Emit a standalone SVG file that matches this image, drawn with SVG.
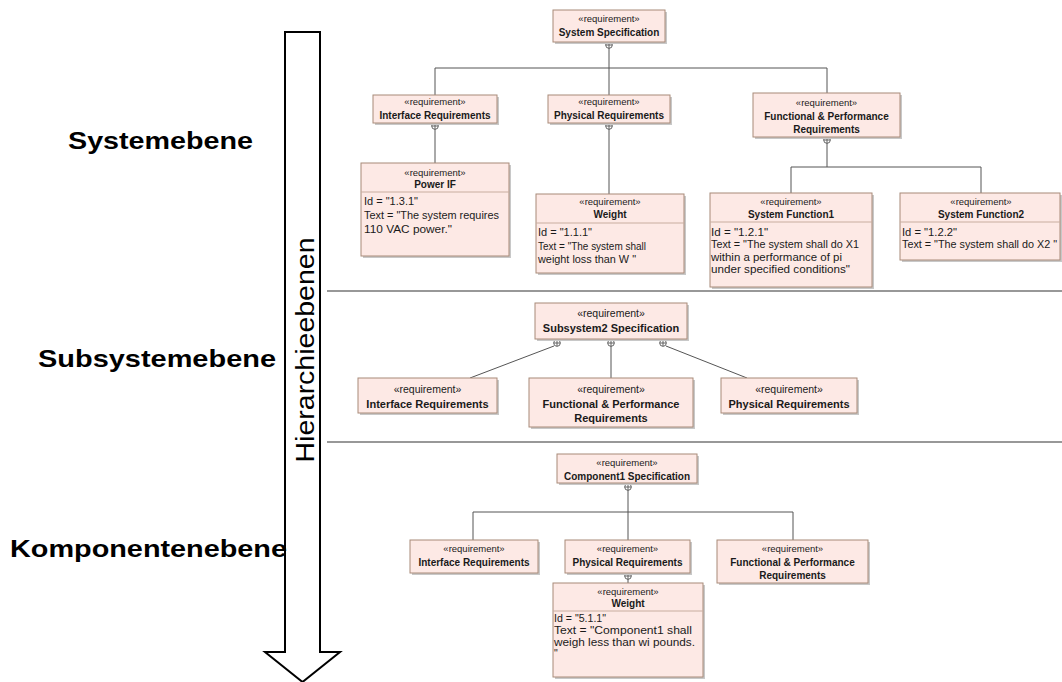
<svg xmlns="http://www.w3.org/2000/svg" xmlns:xlink="http://www.w3.org/1999/xlink" width="1062" height="682" viewBox="0 0 1062 682">
<style>
.bg{fill:#ffffff}
.box{fill:#fde9e5;stroke:#a88a78;stroke-width:1}
.sh{fill:#c8c8c8}
.div{stroke:#c8ad9f;stroke-width:1}
.t{font-family:"Liberation Sans",Arial,sans-serif;font-size:9.5px;fill:#1a1a1a;text-anchor:middle}
.b{font-size:10px;font-weight:bold}
.m{font-size:10.5px}
.mb{font-size:11px;font-weight:bold}
.a{font-family:"Liberation Sans",Arial,sans-serif;font-size:10.5px;fill:#1a1a1a;text-anchor:start}
.conn{stroke:#555;stroke-width:1;fill:none}
.sep{stroke:#333;stroke-width:1.2;fill:none}
.lvl{font-family:"Liberation Sans",Arial,sans-serif;font-size:24px;font-weight:bold;fill:#000}
.hier{font-family:"Liberation Sans",Arial,sans-serif;font-size:26px;fill:#000;text-anchor:middle}
.cp circle{fill:#fff;stroke:#555;stroke-width:0.9}
.cp path{stroke:#555;stroke-width:0.9}
</style>
<defs>
<g id="cplus" class="cp"><circle cx="0" cy="0" r="3.3"/><path d="M-3.3,0H3.3M0,-3.3V3.3"/></g>
</defs>
<rect class="bg" x="0" y="0" width="1062" height="682"/>

<g id="arrow">
<polygon points="285,32 320,32 320,652 340,652 302.5,682 265,652 285,652" fill="#fff" stroke="#000" stroke-width="2"/>
<text class="hier" transform="translate(314,350) rotate(-90)" x="0" y="0" textLength="225" lengthAdjust="spacingAndGlyphs">Hierarchieebenen</text>
</g>

<g id="levels">
<text class="lvl" x="68" y="149" textLength="185" lengthAdjust="spacingAndGlyphs">Systemebene</text>
<text class="lvl" x="38" y="367" textLength="238" lengthAdjust="spacingAndGlyphs">Subsystemebene</text>
<text class="lvl" x="10" y="557" textLength="277" lengthAdjust="spacingAndGlyphs">Komponentenebene</text>
</g>

<g id="separators">
<path class="sep" d="M327,291H1062M327,442H1062"/>
</g>

<g id="connectors">
<path class="conn" d="M609,48V68M435,68H827M435,68V95M609,68V95M827,68V93"/>
<path class="conn" d="M435,129V163M609,129V194M827,143V167M791,167H981M791,167V193M981,167V193"/>
<path class="conn" d="M554,346L470,378M611,346V378M666,346L747,378"/>
<path class="conn" d="M628,490V512M473,512H793M473,512V540M628,512V540M793,512V540M628,579V583"/>
<use xlink:href="#cplus" x="609" y="45"/>
<use xlink:href="#cplus" x="435" y="126"/>
<use xlink:href="#cplus" x="609" y="126"/>
<use xlink:href="#cplus" x="827" y="140"/>
<use xlink:href="#cplus" x="557" y="343"/>
<use xlink:href="#cplus" x="611" y="343"/>
<use xlink:href="#cplus" x="663" y="343"/>
<use xlink:href="#cplus" x="628" y="487"/>
<use xlink:href="#cplus" x="628" y="576"/>
</g>

<g id="system-spec">
<rect class="sh" x="555" y="12" width="112" height="32"/>
<rect class="box" x="553" y="10" width="112" height="32"/>
<text class="t" x="609" y="21.5">«requirement»</text>
<text class="t b" x="609" y="36">System Specification</text>
</g>

<g id="sys-interface">
<rect class="sh" x="375" y="97" width="124" height="28"/>
<rect class="box" x="373" y="95" width="124" height="28"/>
<text class="t" x="435" y="104.5">«requirement»</text>
<text class="t b" x="435" y="119">Interface Requirements</text>
</g>

<g id="sys-physical">
<rect class="sh" x="550" y="97" width="122" height="28"/>
<rect class="box" x="548" y="95" width="122" height="28"/>
<text class="t" x="609" y="104.5">«requirement»</text>
<text class="t b" x="609" y="119">Physical Requirements</text>
</g>

<g id="sys-functional">
<rect class="sh" x="755" y="95" width="147" height="44"/>
<rect class="box" x="753" y="93" width="147" height="44"/>
<text class="t" x="826.5" y="106">«requirement»</text>
<text class="t b" x="826.5" y="120">Functional &amp; Performance</text>
<text class="t b" x="826.5" y="132.5">Requirements</text>
</g>

<g id="power-if">
<rect class="sh" x="363" y="165" width="148" height="93"/>
<rect class="box" x="361" y="163" width="148" height="93"/>
<line class="div" x1="361" y1="192" x2="509" y2="192"/>
<text class="t" x="435" y="176">«requirement»</text>
<text class="t b" x="435" y="188">Power IF</text>
<text class="a" x="364" y="205" textLength="54" lengthAdjust="spacingAndGlyphs">Id = "1.3.1"</text>
<text class="a" x="364" y="219" textLength="135" lengthAdjust="spacingAndGlyphs">Text = "The system requires</text>
<text class="a" x="364" y="233" textLength="88" lengthAdjust="spacingAndGlyphs">110 VAC power."</text>
</g>

<g id="weight-sys">
<rect class="sh" x="538" y="196" width="148" height="79"/>
<rect class="box" x="536" y="194" width="148" height="79"/>
<line class="div" x1="536" y1="223" x2="684" y2="223"/>
<text class="t" x="610" y="205">«requirement»</text>
<text class="t b" x="610" y="218">Weight</text>
<text class="a" x="538" y="236" textLength="54" lengthAdjust="spacingAndGlyphs">Id = "1.1.1"</text>
<text class="a" x="538" y="250" textLength="108" lengthAdjust="spacingAndGlyphs">Text = "The system shall</text>
<text class="a" x="538" y="263" textLength="98" lengthAdjust="spacingAndGlyphs">weight loss than W "</text>
</g>

<g id="sys-function1">
<rect class="sh" x="712" y="195" width="162" height="94"/>
<rect class="box" x="710" y="193" width="162" height="94"/>
<line class="div" x1="710" y1="222" x2="872" y2="222"/>
<text class="t" x="791" y="205">«requirement»</text>
<text class="t b" x="791" y="218">System Function1</text>
<text class="a" x="711" y="236" textLength="57" lengthAdjust="spacingAndGlyphs">Id = "1.2.1"</text>
<text class="a" x="711" y="248" textLength="148" lengthAdjust="spacingAndGlyphs">Text = "The system shall do X1</text>
<text class="a" x="711" y="261" textLength="131" lengthAdjust="spacingAndGlyphs">within a performance of pi</text>
<text class="a" x="711" y="273" textLength="139" lengthAdjust="spacingAndGlyphs">under specified conditions"</text>
</g>

<g id="sys-function2">
<rect class="sh" x="902" y="195" width="160" height="67"/>
<rect class="box" x="900" y="193" width="160" height="67"/>
<line class="div" x1="900" y1="222" x2="1060" y2="222"/>
<text class="t" x="981" y="205">«requirement»</text>
<text class="t b" x="981" y="218">System Function2</text>
<text class="a" x="902" y="236" textLength="55" lengthAdjust="spacingAndGlyphs">Id = "1.2.2"</text>
<text class="a" x="902" y="248" textLength="155" lengthAdjust="spacingAndGlyphs">Text = "The system shall do X2 "</text>
</g>

<g id="subsystem-spec">
<rect class="sh" x="537" y="305" width="152" height="36"/>
<rect class="box" x="535" y="303" width="152" height="36"/>
<text class="t m" x="611" y="316.5">«requirement»</text>
<text class="t mb" x="611" y="331.5">Subsystem2 Specification</text>
</g>

<g id="sub-interface">
<rect class="sh" x="360" y="380" width="139" height="35"/>
<rect class="box" x="358" y="378" width="139" height="35"/>
<text class="t m" x="427.5" y="392.5">«requirement»</text>
<text class="t mb" x="427.5" y="407.5">Interface Requirements</text>
</g>

<g id="sub-functional">
<rect class="sh" x="531" y="380" width="164" height="49"/>
<rect class="box" x="529" y="378" width="164" height="49"/>
<text class="t m" x="611" y="392.5">«requirement»</text>
<text class="t mb" x="611" y="407.5">Functional &amp; Performance</text>
<text class="t mb" x="611" y="421.5">Requirements</text>
</g>

<g id="sub-physical">
<rect class="sh" x="723" y="380" width="136" height="35"/>
<rect class="box" x="721" y="378" width="136" height="35"/>
<text class="t m" x="789" y="392.5">«requirement»</text>
<text class="t mb" x="789" y="407.5">Physical Requirements</text>
</g>

<g id="component-spec">
<rect class="sh" x="559" y="456" width="140" height="29"/>
<rect class="box" x="557" y="454" width="140" height="29"/>
<text class="t" x="627" y="466">«requirement»</text>
<text class="t b" x="627" y="480">Component1 Specification</text>
</g>

<g id="comp-interface">
<rect class="sh" x="412" y="542" width="128" height="33"/>
<rect class="box" x="410" y="540" width="128" height="33"/>
<text class="t" x="474" y="551.5">«requirement»</text>
<text class="t b" x="474" y="565.5">Interface Requirements</text>
</g>

<g id="comp-physical">
<rect class="sh" x="567" y="542" width="125" height="33"/>
<rect class="box" x="565" y="540" width="125" height="33"/>
<text class="t" x="627.5" y="551.5">«requirement»</text>
<text class="t b" x="627.5" y="565.5">Physical Requirements</text>
</g>

<g id="comp-functional">
<rect class="sh" x="719" y="542" width="151" height="43"/>
<rect class="box" x="717" y="540" width="151" height="43"/>
<text class="t" x="792.5" y="551.5">«requirement»</text>
<text class="t b" x="792.5" y="565.5">Functional &amp; Performance</text>
<text class="t b" x="792.5" y="578.5">Requirements</text>
</g>

<g id="weight-comp">
<rect class="sh" x="555" y="585" width="150" height="94"/>
<rect class="box" x="553" y="583" width="150" height="94"/>
<line class="div" x1="553" y1="611" x2="703" y2="611"/>
<text class="t" x="628" y="595">«requirement»</text>
<text class="t b" x="628" y="607">Weight</text>
<text class="a" x="554" y="622" textLength="52" lengthAdjust="spacingAndGlyphs">Id = "5.1.1"</text>
<text class="a" x="554" y="634" textLength="138" lengthAdjust="spacingAndGlyphs">Text = "Component1  shall</text>
<text class="a" x="554" y="646" textLength="141" lengthAdjust="spacingAndGlyphs">weigh less than wi pounds.</text>
<text class="a" x="554" y="657">"</text>
</g>
</svg>
